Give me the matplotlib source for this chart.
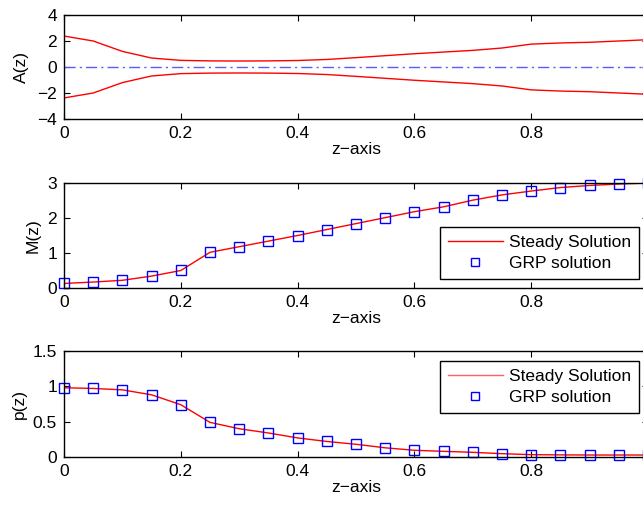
import numpy as np
import matplotlib
matplotlib.use("Agg")
from matplotlib import pyplot as plt

plt.rcParams['font.family'] = ['Liberation Sans', 'DejaVu Sans']
plt.rcParams['font.size'] = 12.5
plt.rcParams['axes.linewidth'] = 1.0

z = [0.0, 0.05, 0.1, 0.15, 0.2, 0.25, 0.3, 0.35, 0.4, 0.45, 0.5,
     0.55, 0.6, 0.65, 0.7, 0.75, 0.8, 0.85, 0.9, 0.95, 1.0]

# nozzle radius A(z), upper wall (lower wall is its mirror)
area = [2.38, 2.0, 1.2, 0.69, 0.51, 0.47, 0.46, 0.47, 0.5, 0.58, 0.72,
        0.87, 1.02, 1.15, 1.28, 1.46, 1.76, 1.85, 1.9, 2.0, 2.1]

mach_steady = [0.13, 0.17, 0.22, 0.34, 0.5, 1.02, 1.18, 1.34, 1.5, 1.67, 1.84,
               2.01, 2.18, 2.32, 2.51, 2.66, 2.77, 2.87, 2.93, 2.97, 3.0]
mach_grp = [0.13, 0.18, 0.23, 0.35, 0.51, 1.02, 1.18, 1.34, 1.5, 1.67, 1.84,
            2.01, 2.18, 2.32, 2.51, 2.66, 2.77, 2.87, 2.93, 2.97, 3.0]

p_steady = [0.98, 0.97, 0.95, 0.88, 0.74, 0.49, 0.40, 0.34, 0.27, 0.22, 0.18,
            0.13, 0.095, 0.08, 0.066, 0.047, 0.033, 0.03, 0.028, 0.028, 0.028]
p_grp = [0.98, 0.97, 0.95, 0.88, 0.74, 0.49, 0.40, 0.34, 0.27, 0.22, 0.18,
         0.13, 0.095, 0.08, 0.066, 0.047, 0.033, 0.03, 0.028, 0.028, 0.028]

area = np.array(area)

fig = plt.figure(figsize=(6.43, 5.07), dpi=100)
W, H = 643.0, 507.0
left = 64 / W
width = (648 - 64) / W


def make_ax(top_px, bot_px):
    ax = fig.add_axes([left, 1 - bot_px / H, width, (bot_px - top_px) / H])
    ax.tick_params(direction='in', top=True, right=True, length=4, width=0.8, pad=5)
    ax.set_xlim(0, 1)
    ax.set_xticks([0, 0.2, 0.4, 0.6, 0.8])
    ax.set_xticklabels(['0', '0.2', '0.4', '0.6', '0.8'])
    ax.set_xlabel('z\u2212axis', labelpad=1)
    return ax


def add_legend(ax, loc, anchor, line_color):
    leg = ax.legend(loc=loc, bbox_to_anchor=anchor, fancybox=False,
                    edgecolor='black', framealpha=1, borderaxespad=0,
                    handlelength=3.2, handletextpad=0.35, borderpad=0.45,
                    labelspacing=0.35, markerscale=0.8)
    leg.get_frame().set_linewidth(1.0)
    leg.legend_handles[0].set_color(line_color)
    return leg


ax1 = make_ax(15, 119)
ax1.plot(z, area, color='red', lw=1)
ax1.plot(z, -area, color='red', lw=1)
ax1.axhline(0, color='#5a5aff', lw=1, ls='-.', dashes=(8, 3, 1.5, 3))
ax1.set_ylim(-4, 4)
ax1.set_yticks([-4, -2, 0, 2, 4])
ax1.set_ylabel('A(z)', labelpad=6)

ax2 = make_ax(183, 288)
ax2.plot(z, mach_steady, color='red', lw=1, label='Steady Solution')
ax2.plot(z, mach_grp, ls='none', marker='s', ms=7, mfc='none', mec='blue',
         mew=1, clip_on=False, label='GRP solution')
ax2.set_ylim(0, 3)
ax2.set_yticks([0, 1, 2, 3])
ax2.set_ylabel('M(z)', labelpad=5)
add_legend(ax2, 'lower right', (0.985, 0.086), 'red')

ax3 = make_ax(351, 457)
ax3.plot(z, p_steady, color='red', lw=1, label='Steady Solution')
ax3.plot(z, p_grp, ls='none', marker='s', ms=7, mfc='none', mec='blue',
         mew=1, clip_on=False, label='GRP solution')
ax3.set_ylim(0, 1.5)
ax3.set_yticks([0, 0.5, 1, 1.5])
ax3.set_yticklabels(['0', '0.5', '1', '1.5'])
ax3.set_ylabel('p(z)', labelpad=4.5)
add_legend(ax3, 'upper right', (0.985, 0.906), '#ff6060')

fig.savefig('out.png', dpi=100)
